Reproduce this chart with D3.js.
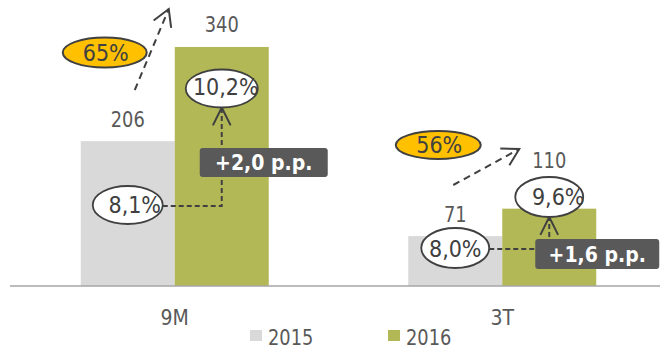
<!DOCTYPE html>
<html>
<head>
<meta charset="utf-8">
<script src="https://cdn.jsdelivr.net/npm/d3@7"></script>
<style>
  html, body { margin: 0; padding: 0; background: #fff; }
  svg { display: block; font-family: "DejaVu Sans Condensed", "DejaVu Sans", sans-serif; font-stretch: condensed; }
</style>
</head>
<body>
<svg id="chart" width="660" height="349"></svg>
<script>
// Data
const categories = ["9M", "3T"];
const years = ["2015", "2016"];
const values2015 = [206, 71];
const values2016 = [340, 110];
const margin2015 = ["8,1%", "8,0%"];
const margin2016 = ["10,2%", "9,6%"];
const growthLabels = ["65%", "56%"];
const deltaLabels = ["+2,0 p.p.", "+1,6 p.p."];

const colors = { "2015": "#d9d9d9", "2016": "#b3b856" };
const textColor = "#595959";
const inkColor = "#404040";
const narrow = 0.9; // horizontal squeeze for the tall, narrow label glyphs

// Annotation layout per category (pixel placement of the callouts)
const layout = [
  { valueLabelDy: [-14, -15],
    growth: { dx: 24, cy: 52.5, rx: 42, ry: 15, from: [54, 90], to: [88, 9] },
    m2015: { cy: 205, rx: 35, ry: 19, tdx: 7, tdy: 8 },
    m2016: { cy: 88.5, rx: 36, ry: 19, tdx: 4, tdy: 6 },
    box: { dx: -22, y: 148, w: 128, h: 29 } },
  { valueLabelDy: [-14, -41],
    growth: { dx: 30, cy: 145, rx: 42.5, ry: 14, from: [45, 185], to: [111, 149] },
    m2015: { cy: 248, rx: 34, ry: 20, tdx: 0, tdy: 9 },
    m2016: { cy: 197, rx: 34, ry: 20, tdx: 9, tdy: 8 },
    box: { dx: -14, y: 239, w: 124, h: 30 } }
];

const svg = d3.select("#chart");
const baseline = 286;

const x = d3.scaleBand().domain(categories).range([11, 666])
  .paddingInner(0.426).paddingOuter(0.213);
const xs = d3.scaleBand().domain(years).range([0, x.bandwidth()]);
const y = d3.scaleLinear().domain([0, 342.8]).range([baseline, 45]);

const rows = categories.map((c, i) => ({
  cat: c, i,
  vals: [{ year: "2015", v: values2015[i] }, { year: "2016", v: values2016[i] }]
}));

// Bars
const groups = svg.append("g").selectAll("g").data(rows).join("g")
  .attr("transform", d => `translate(${x(d.cat)},0)`);
groups.selectAll("rect").data(d => d.vals).join("rect")
  .attr("x", d => xs(d.year))
  .attr("y", d => y(d.v))
  .attr("width", xs.bandwidth())
  .attr("height", d => y(0) - y(d.v))
  .attr("fill", d => colors[d.year]);

// Value labels
groups.selectAll("text.val").data(d => d.vals.map((v, k) => ({ ...v, dy: layout[d.i].valueLabelDy[k] })))
  .join("text").attr("class", "val")
  .attr("transform", d => `translate(${xs(d.year) + xs.bandwidth() / 2},${y(d.v) + d.dy}) scale(${narrow},1)`)
  .attr("text-anchor", "middle")
  .attr("font-size", 22)
  .attr("fill", textColor)
  .text(d => d.v);

// Category axis
const axis = svg.append("g").attr("transform", `translate(0,${baseline})`)
  .call(d3.axisBottom(x).tickSize(0).tickPadding(20));
axis.select(".domain").attr("d", "M10,0H660").attr("stroke", "#a6a6a6").attr("stroke-width", 1.6);
axis.selectAll(".tick text").attr("font-size", 21).attr("fill", textColor)
  .attr("font-family", "DejaVu Sans Condensed, DejaVu Sans, sans-serif").attr("dy", "0.9em");

// Legend
const legend = svg.append("g");
const legendPos = [{ x: 250, y: 330 }, { x: 388, y: 330 }];
years.forEach((yr, k) => {
  legend.append("rect").attr("x", legendPos[k].x).attr("y", legendPos[k].y)
    .attr("width", 12).attr("height", 11).attr("fill", colors[yr]);
  legend.append("text")
    .attr("transform", `translate(${legendPos[k].x + 18},${legendPos[k].y + 15}) scale(${narrow},1)`)
    .attr("font-size", 22).attr("fill", textColor).text(yr);
});

// Open arrowhead at (tx,ty) pointing away from (fx,fy)
function arrowHead(g, fx, fy, tx, ty, len = 19, ang = Math.PI / 6) {
  const a = Math.atan2(fy - ty, fx - tx);
  const p1 = [tx + len * Math.cos(a + ang), ty + len * Math.sin(a + ang)];
  const p2 = [tx + len * Math.cos(a - ang), ty + len * Math.sin(a - ang)];
  g.append("path").attr("d", `M${p1}L${tx},${ty}L${p2}`)
    .attr("fill", "none").attr("stroke", inkColor).attr("stroke-width", 2);
}

const ann = svg.append("g");
rows.forEach(r => {
  const L = layout[r.i];
  const bx = x(r.cat);
  const c15 = bx + xs("2015") + xs.bandwidth() / 2;
  const c16 = bx + xs("2016") + xs.bandwidth() / 2;

  // Growth arrow
  const g = L.growth;
  const f = [bx + g.from[0], g.from[1]], t = [bx + g.to[0], g.to[1]];
  ann.append("line").attr("x1", f[0]).attr("y1", f[1]).attr("x2", t[0]).attr("y2", t[1])
    .attr("stroke", inkColor).attr("stroke-width", 2).attr("stroke-dasharray", "7,5");
  arrowHead(ann, f[0], f[1], t[0], t[1]);

  // Margin connector: from 2015 callout across and up to 2016 callout
  const hy = L.m2015.cy + 1;
  const topY = L.m2016.cy + L.m2016.ry;
  ann.append("path").attr("d", `M${c15 + L.m2015.rx},${hy}H${c16}V${topY}`)
    .attr("fill", "none").attr("stroke", inkColor).attr("stroke-width", 2).attr("stroke-dasharray", "5,3");
  arrowHead(ann, c16, hy, c16, topY, 20, 0.46);

  // Growth ellipse
  ann.append("ellipse").attr("cx", bx + g.dx).attr("cy", g.cy).attr("rx", g.rx).attr("ry", g.ry)
    .attr("fill", "#ffc000").attr("stroke", inkColor).attr("stroke-width", 2);
  ann.append("text").attr("x", bx + g.dx + 1).attr("y", g.cy + 8).attr("text-anchor", "middle")
    .attr("font-size", 23).attr("fill", inkColor).text(growthLabels[r.i]);

  // Margin ellipses
  [[c15, L.m2015, margin2015[r.i]], [c16, L.m2016, margin2016[r.i]]].forEach(([cx, m, label]) => {
    ann.append("ellipse").attr("cx", cx).attr("cy", m.cy).attr("rx", m.rx).attr("ry", m.ry)
      .attr("fill", "#fff").attr("stroke", inkColor).attr("stroke-width", 1.8);
    ann.append("text").attr("x", cx + m.tdx).attr("y", m.cy + m.tdy).attr("text-anchor", "middle")
      .attr("font-size", 23).attr("fill", inkColor).text(label);
  });

  // Delta box
  const b = L.box;
  ann.append("rect").attr("x", c16 + b.dx).attr("y", b.y).attr("width", b.w).attr("height", b.h)
    .attr("rx", 3).attr("fill", "#595959");
  ann.append("text").attr("x", c16 + b.dx + b.w / 2).attr("y", b.y + b.h - 7)
    .attr("text-anchor", "middle").attr("font-size", 21).attr("font-weight", "bold")
    .attr("fill", "#fff").text(deltaLabels[r.i]);
});
</script>
</body>
</html>
